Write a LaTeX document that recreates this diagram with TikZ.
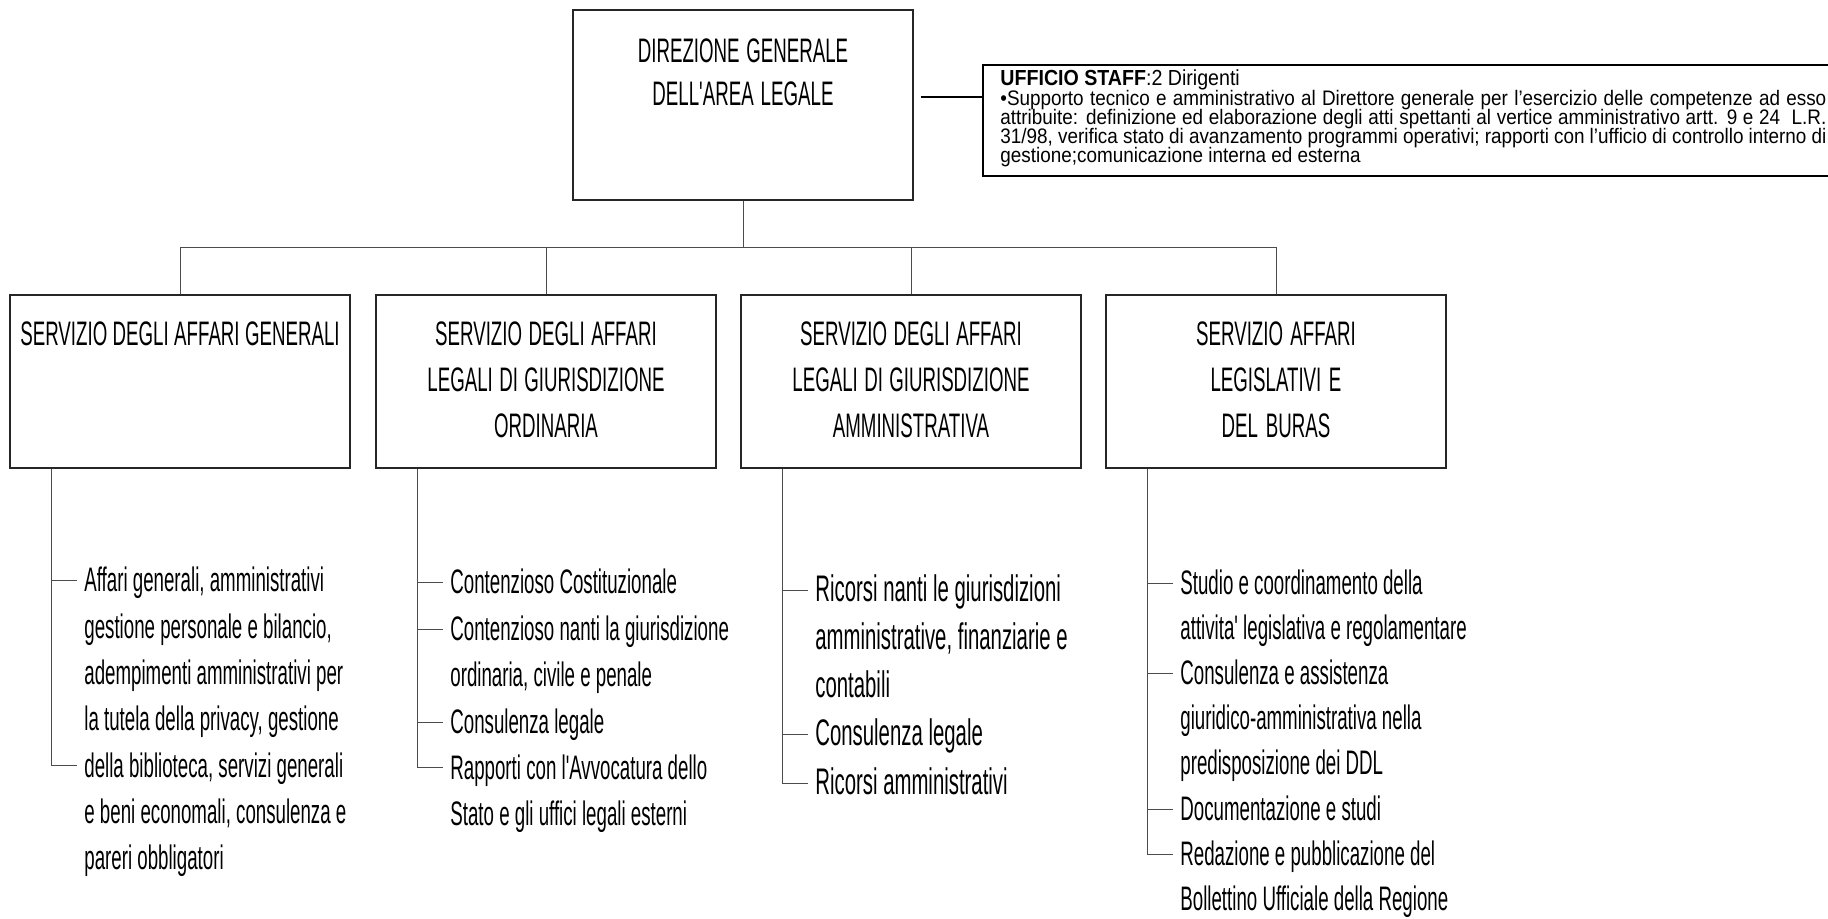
\documentclass[tikz,border=0pt]{standalone}
\usepackage{fontspec}
\setmainfont{Liberation Sans}
\newfontfamily\narrowfont[FakeStretch=0.55]{Liberation Sans}
\newfontfamily\stafffont[FakeStretch=0.9]{Liberation Sans}
\usetikzlibrary{positioning}

% narrow word space for the squeezed font
\newcommand{\nsp}[1]{\spaceskip=#1 plus 0.8pt minus 0.4pt\relax}
% one justified line of the staff text
\newcommand{\jline}[1]{\makebox[413pt][s]{#1}}

\tikzset{
	unitbox/.style={draw=black!85, line width=0.7pt, minimum width=170pt, minimum height=86.5pt, inner sep=0pt},
	unittext/.style={inner sep=0pt, text width=168pt, align=center, anchor=base, font=\narrowfont\fontsize{17pt}{23pt}\selectfont, execute at begin node={\nsp{2.6pt}}},
	itemtext/.style={inner sep=0pt, text width=166pt, align=left, anchor=base west, font=\narrowfont\fontsize{17pt}{23.1pt}\selectfont, execute at begin node={\nsp{2.6pt}}},
	bigitem/.style={itemtext, font=\narrowfont\fontsize{18.5pt}{24pt}\selectfont, execute at begin node={\nsp{2.85pt}}},
	staffline/.style={anchor=base west, inner sep=0pt, font=\stafffont\fontsize{10.5pt}{12pt}\selectfont, execute at begin node={\nsp{2.6pt}}},
	tree/.style={draw=black!70, line width=0.5pt},
}
% one tick from the trunk to an item
\newcommand{\tick}[2]{\draw[tree] ([xshift=-3.5pt,yshift=5.5pt]#1.base west) -| (#2);}

\begin{document}
\begin{tikzpicture}[x=0.5pt,y=-0.5pt]
	\fill[white] (0,0) rectangle (1828,919);
	\useasboundingbox (0,0) rectangle (1828,919);

	% direzione e staff
	\node[unitbox, minimum height=95pt] (dir) at (743,105) {};
	\node[unittext, font=\narrowfont\fontsize{17pt}{21.5pt}\selectfont] (dirt) at ([yshift=-26.5pt]dir.north) {DIREZIONE GENERALE\\DELL'AREA LEGALE};
	\node[draw, line width=1pt, anchor=north west, minimum width=432pt, minimum height=55.5pt, inner sep=0pt] (staff) at (982,64) {};
	\draw[line width=1pt] ([yshift=0.6pt]staff.south west) -- ([yshift=0.6pt]staff.south east);
	\node[anchor=base west, inner sep=0pt, font=\stafffont\fontsize{10.9pt}{12pt}\selectfont] (stafft) at (1000,86) {\textbf{UFFICIO STAFF}:2 Dirigenti};
	\node[staffline] (s1) at (1000,106) {\jline{•Supporto tecnico e amministrativo al Direttore generale per l’esercizio delle competenze ad esso}};
	\node[staffline] (s2) at (1000,125) {\jline{attribuite: definizione ed elaborazione degli atti spettanti al vertice amministrativo artt. 9 e 24 \ L.R.}};
	\node[staffline] (s3) at (1000,144) {\jline{31/98, verifica stato di avanzamento programmi operativi; rapporti con l’ufficio di controllo interno di}};
	\node[staffline] (s4) at (1000,163) {gestione;comunicazione interna ed esterna};
	\draw[line width=1.3pt] ([xshift=3.5pt,yshift=4pt]dir.east) -- ([yshift=4pt]dir.east -| staff.west);

	% servizi
	\node[unitbox] (u1) at (180,381.5) {};
	\node[unitbox] (u2) at (546,381.5) {};
	\node[unitbox] (u3) at (911,381.5) {};
	\node[unitbox] (u4) at (1276,381.5) {};
	\node[unittext] (u1t) at ([yshift=-25.5pt]u1.north) {SERVIZIO DEGLI AFFARI GENERALI};
	\node[unittext] (u2t) at ([yshift=-25.5pt]u2.north) {SERVIZIO DEGLI AFFARI\\LEGALI DI GIURISDIZIONE\\ORDINARIA};
	\node[unittext] (u3t) at ([yshift=-25.5pt]u3.north) {SERVIZIO DEGLI AFFARI\\LEGALI DI GIURISDIZIONE\\AMMINISTRATIVA};
	\node[unittext] (u4t) at ([yshift=-25.5pt]u4.north) {SERVIZIO AFFARI\\LEGISLATIVI E\\DEL BURAS};

	\coordinate (bus) at (743,248);
	\foreach \u in {u1,u2,u3,u4}
		\draw[tree] (dir.south) -- (bus) -| (\u.north);

	% compiti
	\node[itemtext] (a1) at (84,592) {Affari generali, amministrativi\\gestione personale e bilancio,\\adempimenti amministrativi per\\la tutela della privacy, gestione};
	\node[itemtext] (a2) at (84,777) {della biblioteca, servizi generali\\e beni economali, consulenza e\\pareri obbligatori};

	\node[itemtext] (b1) at (450,594) {Contenzioso Costituzionale};
	\node[itemtext] (b2) at (450,640.5) {Contenzioso nanti la giurisdizione\\ordinaria, civile e penale};
	\node[itemtext] (b3) at (450,733.5) {Consulenza legale};
	\node[itemtext] (b4) at (450,779) {Rapporti con l'Avvocatura dello\\Stato e gli uffici legali esterni};

	\node[bigitem] (c1) at (815,602) {Ricorsi nanti le giurisdizioni\\amministrative, finanziarie e\\contabili};
	\node[bigitem] (c2) at (815,746) {Consulenza legale};
	\node[bigitem] (c3) at (815,794) {Ricorsi amministrativi};

	\node[itemtext, font=\narrowfont\fontsize{17pt}{22.5pt}\selectfont] (d1) at (1180,595) {Studio e coordinamento della\\attivita' legislativa e regolamentare};
	\node[itemtext, font=\narrowfont\fontsize{17pt}{22.5pt}\selectfont] (d2) at (1180,685) {Consulenza e assistenza\\giuridico-amministrativa nella\\predisposizione dei DDL};
	\node[itemtext, font=\narrowfont\fontsize{17pt}{22.5pt}\selectfont] (d3) at (1180,820) {Documentazione e studi};
	\node[itemtext, font=\narrowfont\fontsize{17pt}{22.5pt}\selectfont] (d4) at (1180,865) {Redazione e pubblicazione del\\Bollettino Ufficiale della Regione};

	\coordinate (t1) at ([xshift=21pt]u1.south west);
	\coordinate (t2) at ([xshift=21pt]u2.south west);
	\coordinate (t3) at ([xshift=21pt]u3.south west);
	\coordinate (t4) at ([xshift=21pt]u4.south west);
	\tick{a1}{t1} \tick{a2}{t1}
	\tick{b1}{t2} \tick{b2}{t2} \tick{b3}{t2} \tick{b4}{t2}
	\tick{c1}{t3} \tick{c2}{t3} \tick{c3}{t3}
	\tick{d1}{t4} \tick{d2}{t4} \tick{d3}{t4} \tick{d4}{t4}
\end{tikzpicture}
\end{document}
